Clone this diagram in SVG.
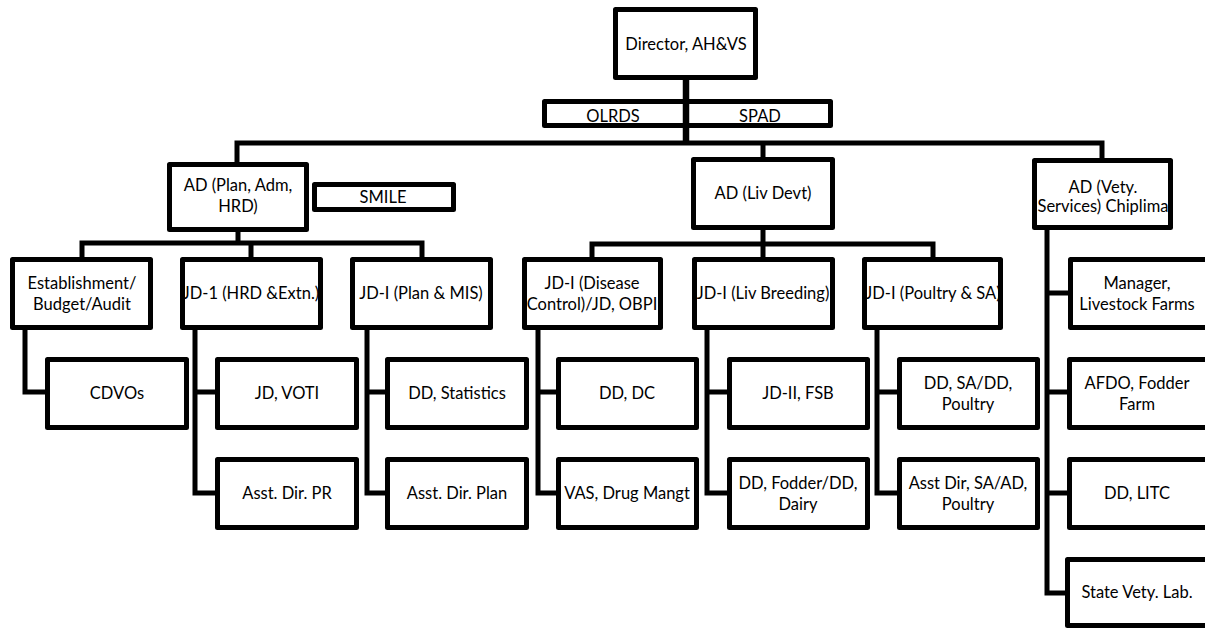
<svg xmlns="http://www.w3.org/2000/svg" width="1205" height="628" viewBox="0 0 1205 628">
<style>
.b{fill:#fff;stroke:#000;stroke-width:5;stroke-linejoin:round}
.c{fill:none;stroke:#000;stroke-width:5;stroke-linejoin:miter}
text{font-family:Lato,"Liberation Sans",sans-serif;font-size:16.5px;fill:#000;text-anchor:middle}
</style>
<rect width="1205" height="628" fill="#fff"/>
<g id="connectors">
<path class="c" d="M237 162V143H1102V158M763 143V157"/>
<path class="c" d="M238 232V243M82 257V243H422V257M251 243V257"/>
<path class="c" d="M25 330V392H45"/>
<path class="c" d="M195 330V493H215M195 392H215"/>
<path class="c" d="M367 330V493H385M367 392H385"/>
<path class="c" d="M763 230V244M592 257V244H933V257M763 244V257"/>
<path class="c" d="M538 330V493H556M538 392H556"/>
<path class="c" d="M707 330V493H727M707 392H727"/>
<path class="c" d="M877 330V493H897M877 392H897"/>
<path class="c" d="M1047 230V593H1068M1047 293H1068M1047 392H1068M1047 493H1068"/>
</g>
<g id="director"><rect class="b" x="615.5" y="9.5" width="140" height="68"/><text x="686" y="50">Director, AH&amp;VS</text></g>
<g id="olrds"><rect class="b" x="544.5" y="101.5" width="141.5" height="24"/><text x="613" y="122">OLRDS</text></g>
<g id="spad"><rect class="b" x="686" y="101.5" width="144.5" height="24"/><text x="760" y="122">SPAD</text></g>
<path class="c" d="M686 80V143" style="stroke-width:6.5"/>
<g id="ad-plan"><rect class="b" x="169.5" y="164.5" width="137" height="65"/><text x="238" y="191">AD (Plan, Adm,</text><text x="238" y="212">HRD)</text></g>
<g id="smile"><rect class="b" x="314.5" y="184.5" width="139" height="25"/><text x="383" y="203">SMILE</text></g>
<g id="ad-liv"><rect class="b" x="693.5" y="159.5" width="139" height="68"/><text x="763" y="199">AD (Liv Devt)</text></g>
<g id="ad-vety"><rect class="b" x="1034.5" y="160.5" width="136" height="67"/><text x="1103" y="193">AD (Vety.</text><text x="1103" y="212">Services) Chiplima</text></g>
<g id="establishment"><rect class="b" x="12.5" y="259.5" width="138" height="68"/><text x="82" y="289">Establishment/</text><text x="82" y="310">Budget/Audit</text></g>
<g id="jd1-hrd"><rect class="b" x="182.5" y="259.5" width="138" height="68"/><text x="251" y="299">JD-1 (HRD &amp;Extn.)</text></g>
<g id="jd1-plan"><rect class="b" x="352.5" y="259.5" width="138" height="68"/><text x="421" y="299">JD-I (Plan &amp; MIS)</text></g>
<g id="jd1-disease"><rect class="b" x="524.5" y="259.5" width="136" height="68"/><text x="592" y="289">JD-I (Disease</text><text x="592" y="310">Control)/JD, OBPI</text></g>
<g id="jd1-breeding"><rect class="b" x="694.5" y="259.5" width="138" height="68"/><text x="763" y="299">JD-I (Liv Breeding)</text></g>
<g id="jd1-poultry"><rect class="b" x="864.5" y="259.5" width="136" height="68"/><text x="933" y="299">JD-I (Poultry &amp; SA)</text></g>
<g id="manager"><rect class="b" x="1070.5" y="259.5" width="145" height="68"/><text x="1137" y="289">Manager,</text><text x="1137" y="310">Livestock Farms</text></g>
<g id="cdvos"><rect class="b" x="47.5" y="359.5" width="139" height="68"/><text x="117" y="399">CDVOs</text></g>
<g id="jd-voti"><rect class="b" x="217.5" y="359.5" width="139" height="68"/><text x="287" y="399">JD, VOTI</text></g>
<g id="dd-stat"><rect class="b" x="387.5" y="359.5" width="139" height="68"/><text x="457" y="399">DD, Statistics</text></g>
<g id="dd-dc"><rect class="b" x="558.5" y="359.5" width="138" height="68"/><text x="627" y="399">DD, DC</text></g>
<g id="jd2-fsb"><rect class="b" x="729.5" y="359.5" width="138" height="68"/><text x="798" y="399">JD-II, FSB</text></g>
<g id="dd-sa"><rect class="b" x="899.5" y="359.5" width="138" height="68"/><text x="968" y="389">DD, SA/DD,</text><text x="968" y="410">Poultry</text></g>
<g id="afdo"><rect class="b" x="1069.5" y="359.5" width="145" height="68"/><text x="1137" y="389">AFDO, Fodder</text><text x="1137" y="410">Farm</text></g>
<g id="asst-pr"><rect class="b" x="217.5" y="459.5" width="139" height="68"/><text x="287" y="499">Asst. Dir. PR</text></g>
<g id="asst-plan"><rect class="b" x="387.5" y="459.5" width="139" height="68"/><text x="457" y="499">Asst. Dir. Plan</text></g>
<g id="vas"><rect class="b" x="558.5" y="459.5" width="138" height="68"/><text x="627" y="499">VAS, Drug Mangt</text></g>
<g id="dd-fodder"><rect class="b" x="729.5" y="459.5" width="138" height="68"/><text x="798" y="489">DD, Fodder/DD,</text><text x="798" y="510">Dairy</text></g>
<g id="asst-sa"><rect class="b" x="899.5" y="459.5" width="138" height="68"/><text x="968" y="489">Asst Dir, SA/AD,</text><text x="968" y="510">Poultry</text></g>
<g id="dd-litc"><rect class="b" x="1069.5" y="459.5" width="145" height="68"/><text x="1137" y="499">DD, LITC</text></g>
<g id="state-lab"><rect class="b" x="1067.5" y="559.5" width="147" height="66"/><text x="1137" y="598">State Vety. Lab.</text></g>
</svg>
